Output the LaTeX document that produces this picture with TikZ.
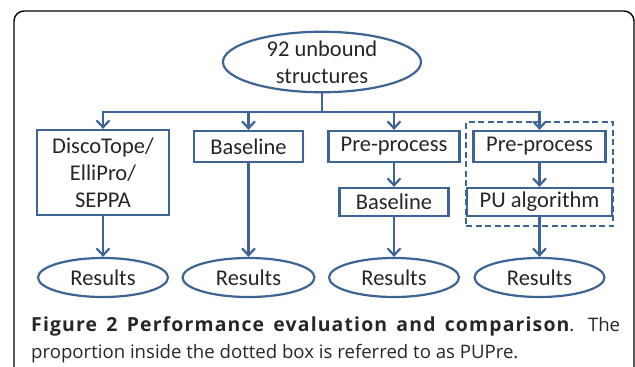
\documentclass[tikz,border=0pt]{standalone}
\usepackage{fontspec}
\setmainfont{Carlito}
\newfontfamily\capfont{Open Sans}
\newfontfamily\capbold{Open Sans Bold}[LetterSpace=6]
\usetikzlibrary{shapes.geometric,arrows.meta}
\definecolor{lineblue}{HTML}{3D6495}
\begin{document}
\begin{tikzpicture}[x=1pt,y=-1pt,
  every node/.style={font=\fontsize{22.5}{27}\selectfont, text=black!85},
  flowbox/.style={draw=lineblue, line width=2.2pt, rectangle, inner sep=0pt, align=center},
  oval/.style={draw=lineblue, line width=2.2pt, ellipse, inner sep=0pt, align=center},
  conn/.style={draw=lineblue, line width=2.2pt},
  arr/.style={conn, -{Straight Barb[length=7pt,width=13pt,line width=2.2pt]}},
  dashbox/.style={draw=lineblue, line width=2pt, dash pattern=on 6pt off 3.5pt}]
\useasboundingbox (0,0) rectangle (635,367);
% frame
\draw[line width=1.4pt, black, rounded corners=10pt] (14,370) -- (14,11) -- (634,11) -- (634,370);
% top ellipse
\node[oval, minimum width=198pt, minimum height=59pt] (top) at (322,62) {92 unbound\\structures};
% boxes
\node[flowbox, minimum width=132pt, minimum height=85pt] (b1) at (103,172.5) {DiscoTope/\\ElliPro/\\SEPPA};
\node[flowbox, minimum width=109pt, minimum height=31pt] (b2) at (248.5,146.5) {Baseline};
\node[flowbox, minimum width=131pt, minimum height=31pt] (b3) at (394,146.5) {Pre-process};
\node[flowbox, minimum width=132pt, minimum height=31pt] (b4) at (539.5,146.5) {Pre-process};
\node[flowbox, minimum width=109pt, minimum height=28pt] (b3b) at (394,202) {Baseline};
\node[flowbox, minimum width=145pt, minimum height=28pt] (b4b) at (539.5,202) {PU algorithm};
% dashed box
\node[dashbox, rectangle, minimum width=147pt, minimum height=104pt, inner sep=0pt] (dbox) at (539.5,174) {};
% results
\node[oval, minimum width=130pt, minimum height=39pt] (r1) at (103,277.5) {Results};
\node[oval, minimum width=132pt, minimum height=39pt] (r2) at (248.5,277.5) {Results};
\node[oval, minimum width=130pt, minimum height=39pt] (r3) at (394,277.5) {Results};
\node[oval, minimum width=130pt, minimum height=39pt] (r4) at (539.5,277.5) {Results};
% connectors
\coordinate (j) at (322,112);
\draw[conn] (top.south) -- (j);
\draw[arr] (j) -| (b1.north);
\draw[arr] (j) -| (b2.north);
\draw[arr] (j) -| (b3.north);
\draw[arr] (j) -| (b4.north);
\draw[arr] (b1) -- (r1);
\draw[arr] (b2) -- (r2);
\draw[arr] (b3) -- (b3b);
\draw[arr] (b4) -- (b4b);
\draw[arr] (b3b) -- (r3);
\draw[arr] (b4b) -- (r4);
% caption
\node[anchor=base west, inner sep=0pt, font=\capfont\fontsize{18.6}{27}\selectfont] (cap1) at (31,331)
  {\makebox[589pt][s]{{\capbold\fontsize{19.4}{27}\selectfont Figure 2 Performance evaluation and comparison}. The}};
\node[anchor=base west, inner sep=0pt, font=\capfont\fontsize{18.6}{27}\selectfont] (cap2) at (31,358)
  {proportion inside the dotted box is referred to as PUPre.};
\end{tikzpicture}
\end{document}
